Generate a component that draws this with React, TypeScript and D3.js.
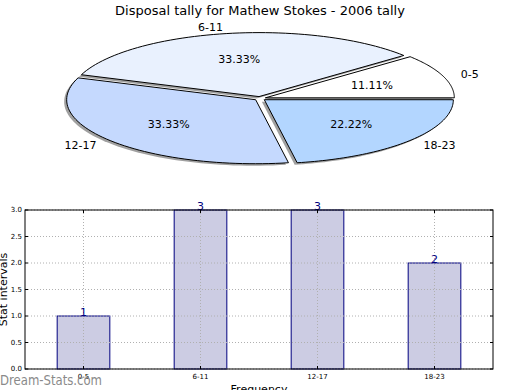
import React, { useRef, useEffect } from 'react';
import * as d3 from 'd3';

const categories = ['0-5', '6-11', '12-17', '18-23'];
const tally = [1, 3, 3, 2];
const sliceColors = ['#ffffff', '#e9f1fe', '#c5d9fe', '#b3d6ff'];
const yTicks = [0, 0.5, 1, 1.5, 2, 2.5, 3];

const App: React.FC = () => {
  const svgRef = useRef<SVGSVGElement>(null);

  useEffect(() => {
    if (!svgRef.current) return;
    const svg = d3.select(svgRef.current);
    svg.selectAll('*').remove();
    const font = 'DejaVu Sans, sans-serif';

    // title
    svg
      .append('text')
      .attr('x', 260)
      .attr('y', 15)
      .attr('text-anchor', 'middle')
      .style('font-family', font)
      .style('font-size', '13px')
      .text('Disposal tally for Mathew Stokes - 2006 tally');

    // Pie (ellipse, start at 0deg, counterclockwise)
    const cx = 260,
      cy = 98.5,
      rx = 189,
      ry = 64;
    const total = d3.sum(tally);
    const explode = 0.03;
    const angles: [number, number][] = [];
    let acc = 0;
    tally.forEach((v) => {
      const a0 = (acc / total) * 2 * Math.PI;
      acc += v;
      const a1 = (acc / total) * 2 * Math.PI;
      angles.push([a0, a1]);
    });

    const wedgePath = (a0: number, a1: number, ox: number, oy: number) => {
      const p = d3.path();
      p.moveTo(ox, oy);
      const n = 60;
      for (let i = 0; i <= n; i++) {
        const t = a0 + ((a1 - a0) * i) / n;
        p.lineTo(ox + rx * Math.cos(t), oy - ry * Math.sin(t));
      }
      p.closePath();
      return p.toString();
    };

    const pie = svg.append('g').attr('transform', `translate(${cx},${cy})`);
    const offsets = angles.map(([a0, a1]) => {
      const m = (a0 + a1) / 2;
      return [explode * rx * Math.cos(m), -explode * ry * Math.sin(m)];
    });

    // shadows
    angles.forEach(([a0, a1], i) => {
      pie
        .append('path')
        .attr('d', wedgePath(a0, a1, offsets[i][0] - 2.5, offsets[i][1] + 2))
        .attr('fill', '#777')
        .attr('opacity', 0.7);
    });
    angles.forEach(([a0, a1], i) => {
      pie
        .append('path')
        .attr('d', wedgePath(a0, a1, offsets[i][0], offsets[i][1]))
        .attr('fill', sliceColors[i])
        .attr('stroke', '#000')
        .attr('stroke-width', 1)
        .attr('stroke-linejoin', 'round');
    });

    // labels
    angles.forEach(([a0, a1], i) => {
      const m = (a0 + a1) / 2;
      const [ox, oy] = offsets[i];
      const c = Math.cos(m);
      pie
        .append('text')
        .attr('x', ox + 1.1 * rx * Math.cos(m))
        .attr('y', oy - 1.1 * ry * Math.sin(m))
        .attr('dy', '0.35em')
        .attr('text-anchor', c > 0.1 ? 'start' : c < -0.1 ? 'end' : 'middle')
        .style('font-family', font)
        .style('font-size', '11px')
        .text(categories[i]);
      pie
        .append('text')
        .attr('x', ox + 0.6 * rx * Math.cos(m))
        .attr('y', oy - 0.6 * ry * Math.sin(m))
        .attr('dy', '0.35em')
        .attr('text-anchor', 'middle')
        .style('font-family', font)
        .style('font-size', '11px')
        .text(((tally[i] / total) * 100).toFixed(2) + '%');
    });

    // Bar chart
    const left = 25,
      right = 493,
      top = 210,
      bottom = 369;
    const x = d3.scaleBand().domain(categories).range([left, right]);
    const y = d3.scaleLinear().domain([0, 3]).range([bottom, top]);
    const bw = x.bandwidth() * 0.45;

    const g = svg.append('g');
    g.append('rect')
      .attr('x', left)
      .attr('y', top)
      .attr('width', right - left)
      .attr('height', bottom - top)
      .attr('fill', '#fff');

    // bars
    categories.forEach((c, i) => {
      const xc = x(c)! + x.bandwidth() / 2;
      g.append('rect')
        .attr('x', xc - bw / 2)
        .attr('y', y(tally[i]))
        .attr('width', bw)
        .attr('height', bottom - y(tally[i]))
        .attr('fill', '#ccccE3')
        .attr('stroke', '#000080')
        .attr('stroke-width', 1);
    });

    // grid
    yTicks.forEach((t) => {
      g.append('line')
        .attr('x1', left)
        .attr('x2', right)
        .attr('y1', y(t))
        .attr('y2', y(t))
        .attr('stroke', '#b0b0b0')
        .attr('stroke-dasharray', '1,2');
    });
    categories.forEach((c) => {
      const xc = x(c)! + x.bandwidth() / 2;
      g.append('line')
        .attr('x1', xc)
        .attr('x2', xc)
        .attr('y1', top)
        .attr('y2', bottom)
        .attr('stroke', '#b0b0b0')
        .attr('stroke-dasharray', '1,2');
    });

    // value labels
    categories.forEach((c, i) => {
      const xc = x(c)! + x.bandwidth() / 2;
      g.append('text')
        .attr('x', xc)
        .attr('y', y(tally[i]))
        .attr('text-anchor', 'middle')
        .attr('fill', '#000080')
        .style('font-family', font)
        .style('font-size', '11px')
        .text(tally[i]);
    });

    // frame
    g.append('rect')
      .attr('x', left)
      .attr('y', top)
      .attr('width', right - left)
      .attr('height', bottom - top)
      .attr('fill', 'none')
      .attr('stroke', '#000');

    // ticks
    yTicks.forEach((t) => {
      g.append('line')
        .attr('x1', left)
        .attr('x2', left + 3)
        .attr('y1', y(t))
        .attr('y2', y(t))
        .attr('stroke', '#000');
      g.append('line')
        .attr('x1', right - 3)
        .attr('x2', right)
        .attr('y1', y(t))
        .attr('y2', y(t))
        .attr('stroke', '#000');
      g.append('text')
        .attr('x', left - 3)
        .attr('y', y(t))
        .attr('dy', '0.35em')
        .attr('text-anchor', 'end')
        .style('font-family', font)
        .style('font-size', '7px')
        .text(t.toFixed(1));
    });
    categories.forEach((c) => {
      const xc = x(c)! + x.bandwidth() / 2;
      g.append('line')
        .attr('x1', xc)
        .attr('x2', xc)
        .attr('y1', bottom)
        .attr('y2', bottom - 3)
        .attr('stroke', '#000');
      g.append('line')
        .attr('x1', xc)
        .attr('x2', xc)
        .attr('y1', top)
        .attr('y2', top + 3)
        .attr('stroke', '#000');
      g.append('text')
        .attr('x', xc)
        .attr('y', bottom + 10)
        .attr('text-anchor', 'middle')
        .style('font-family', font)
        .style('font-size', '7px')
        .text(c);
    });

    // axis labels
    g.append('text')
      .attr('transform', `translate(7,${(top + bottom) / 2}) rotate(-90)`)
      .attr('text-anchor', 'middle')
      .style('font-family', font)
      .style('font-size', '11px')
      .text('Stat intervals');
    g.append('text')
      .attr('x', (left + right) / 2)
      .attr('y', 393)
      .attr('text-anchor', 'middle')
      .style('font-family', font)
      .style('font-size', '11px')
      .text('Frequency');

    // watermark
    svg
      .append('text')
      .attr('x', 0)
      .attr('y', 385)
      .attr('fill', '#8a8a8a')
      .attr('textLength', 102)
      .attr('lengthAdjust', 'spacingAndGlyphs')
      .style('font-family', '"DejaVu Sans Condensed", "DejaVu Sans", sans-serif')
      .style('font-size', '13.5px')
      .text('Dream-Stats.com');
  }, []);

  return (
    <svg
      ref={svgRef}
      width={520}
      height={390}
      style={{ position: 'absolute', left: 0, top: 0, background: '#fff' }}
    />
  );
};

export default App;
